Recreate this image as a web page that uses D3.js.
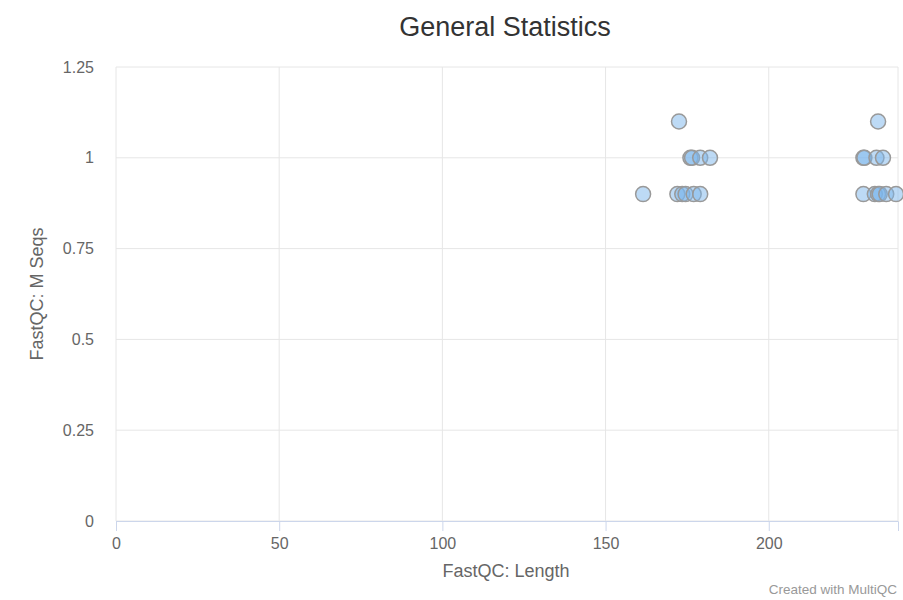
<!DOCTYPE html>
<html>
<head>
<meta charset="utf-8">
<script src="https://cdn.jsdelivr.net/npm/d3@7"></script>
<style>
  body { margin: 0; background: #fff; font-family: "Liberation Sans", Arial, sans-serif; }
</style>
</head>
<body>
<div id="chart"></div>
<script>
// read-length (x) and million sequences (y) per sample
const lengths = [172.5, 233.5,
  176, 176.5, 179, 182, 229, 229.3, 233, 235,
  161.5, 172, 173.5, 174.5, 177, 179, 229, 232.5, 233.5, 234, 236, 239];
const mSeqs = [1.1, 1.1,
  1.0, 1.0, 1.0, 1.0, 1.0, 1.0, 1.0, 1.0,
  0.9, 0.9, 0.9, 0.9, 0.9, 0.9, 0.9, 0.9, 0.9, 0.9, 0.9, 0.9];
const xTicks = [0, 50, 100, 150, 200];
const yTicks = [0, 0.25, 0.5, 0.75, 1, 1.25];

const width = 903, height = 600;
const margin = { top: 67, right: 5, bottom: 79, left: 116 };
const font = '"Liberation Sans", Arial, sans-serif';

const svg = d3.select('#chart').append('svg')
  .attr('width', width).attr('height', height);

const x = d3.scaleLinear().domain([0, 239.6]).range([margin.left, width - margin.right]);
const y = d3.scaleLinear().domain([0, 1.25]).range([height - margin.bottom, margin.top]);

// grid
svg.append('g').selectAll('line').data(yTicks).enter().append('line')
  .attr('x1', margin.left).attr('x2', width - margin.right)
  .attr('y1', d => y(d)).attr('y2', d => y(d))
  .attr('stroke', '#e6e6e6');
svg.append('g').selectAll('line').data(xTicks).enter().append('line')
  .attr('x1', d => x(d)).attr('x2', d => x(d))
  .attr('y1', margin.top).attr('y2', height - margin.bottom)
  .attr('stroke', '#e6e6e6');
svg.append('line')
  .attr('x1', width - margin.right).attr('x2', width - margin.right)
  .attr('y1', margin.top).attr('y2', height - margin.bottom)
  .attr('stroke', '#e6e6e6');

// x axis
const xAxis = svg.append('g')
  .attr('transform', `translate(0,${height - margin.bottom})`)
  .call(d3.axisBottom(x).tickValues(xTicks).tickSize(10).tickPadding(7).tickFormat(d3.format('d')));
xAxis.select('.domain').attr('stroke', '#ccd6eb');
xAxis.selectAll('.tick line').attr('stroke', '#ccd6eb');
xAxis.selectAll('text').attr('fill', '#666').style('font-size', '16px').style('font-family', font);

// y axis labels
const yAxis = svg.append('g')
  .attr('transform', `translate(${margin.left},0)`)
  .call(d3.axisLeft(y).tickValues(yTicks).tickSize(0).tickPadding(22).tickFormat(d => String(d)));
yAxis.select('.domain').remove();
yAxis.selectAll('text').attr('fill', '#666').style('font-size', '16px').style('font-family', font);

// points
const pts = lengths.map((l, i) => ({ l, m: mSeqs[i] }));
svg.append('g').selectAll('circle').data(pts).enter().append('circle')
  .attr('cx', d => x(d.l)).attr('cy', d => y(d.m)).attr('r', 7.5)
  .attr('fill', 'rgba(124,181,236,0.5)')
  .attr('stroke', '#999').attr('stroke-width', 1.5);

// titles
svg.append('text').attr('x', 505).attr('y', 36).attr('text-anchor', 'middle')
  .attr('fill', '#333').style('font-size', '27px').text('General Statistics');
svg.append('text').attr('x', 506).attr('y', 577).attr('text-anchor', 'middle')
  .attr('fill', '#666').style('font-size', '18px').text('FastQC: Length');
svg.append('text').attr('transform', 'translate(43,294) rotate(-90)').attr('text-anchor', 'middle')
  .attr('fill', '#666').style('font-size', '18px').text('FastQC: M Seqs');
svg.append('text').attr('x', 897).attr('y', 594).attr('text-anchor', 'end')
  .attr('fill', '#999').style('font-size', '13.5px').text('Created with MultiQC');
</script>
</body>
</html>
